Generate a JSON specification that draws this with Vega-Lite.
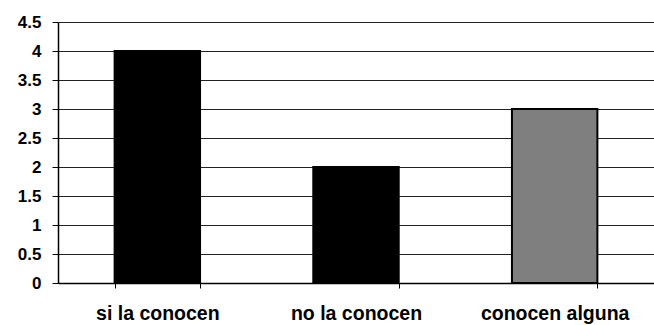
{
  "$schema": "https://vega.github.io/schema/vega-lite/v6.json",
  "autosize": "none",
  "width": 596,
  "height": 261,
  "padding": {"left": 58, "top": 22, "right": 0, "bottom": 42},
  "background": "white",
  "config": {"view": {"stroke": null}},
  "data": {"values": [
    {"cat": "si la conocen", "value": 4, "grp": "a"},
    {"cat": "no la conocen", "value": 2, "grp": "a"},
    {"cat": "conocen alguna", "value": 3, "grp": "b"}
  ]},
  "mark": {"type": "bar", "stroke": "black", "strokeWidth": 2},
  "encoding": {
    "x": {
      "field": "cat", "type": "nominal", "sort": null,
      "scale": {"paddingInner": 0.57, "paddingOuter": 0.285},
      "axis": {
        "title": null, "labelAngle": 0, "domainColor": "black", "domainWidth": 1.5,
        "tickColor": "black", "tickBand": "extent", "tickSize": 5,
        "labelFont": "Liberation Sans", "labelFontWeight": "bold", "labelFontSize": 19.5,
        "labelColor": "black", "labelPadding": 16
      }
    },
    "y": {
      "field": "value", "type": "quantitative",
      "scale": {"domain": [0, 4.5], "nice": false},
      "axis": {
        "title": null, "values": [0, 0.5, 1, 1.5, 2, 2.5, 3, 3.5, 4, 4.5],
        "format": "~g", "grid": true, "gridColor": "#222", "gridWidth": 1, "gridOpacity": 1,
        "domainColor": "black", "domainWidth": 1.5, "tickColor": "black", "tickSize": 6,
        "labelFont": "Liberation Sans", "labelFontWeight": "bold", "labelFontSize": 17,
        "labelColor": "black", "labelPadding": 11
      }
    },
    "color": {
      "field": "grp", "type": "nominal", "legend": null,
      "scale": {"domain": ["a", "b"], "range": ["black", "#7f7f7f"]}
    }
  }
}
